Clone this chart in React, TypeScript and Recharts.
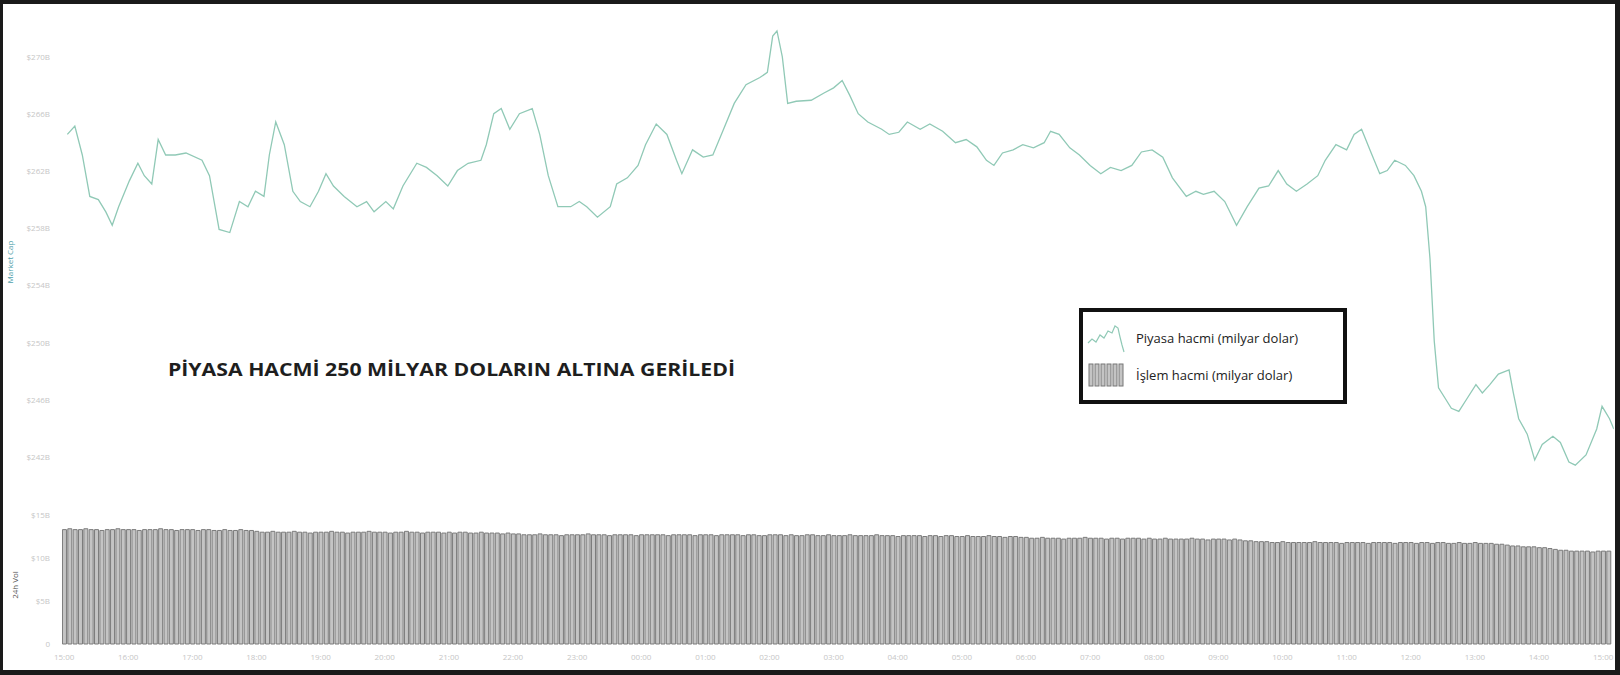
import { Bar, BarChart, Legend, Line, LineChart, XAxis, YAxis } from "recharts";

// market cap line (minutes from start, billions of dollars)
const capMinutes = [
  3, 10, 17, 24, 32, 39, 45, 51, 61, 69, 75, 82, 88, 95, 104, 114, 129, 136, 145, 155,
  164, 172, 179, 187, 192, 198, 206, 214, 221, 230, 238, 245, 252, 262, 274, 283, 290, 301, 308, 317,
  330, 339, 349, 359, 368, 378, 390, 395, 402, 409, 417, 426, 438, 445, 453, 462, 474, 482, 489, 499,
  511, 517, 527, 537, 544, 554, 564, 573, 578, 588, 598, 607, 617, 627, 638, 651, 658, 663, 667, 672,
  677, 685, 699, 711, 720, 728, 735, 743, 752, 765, 772, 781, 789, 801, 810, 822, 834, 844, 854, 863,
  870, 878, 888, 897, 907, 917, 923, 931, 941, 950, 960, 970, 979, 989, 999, 1008, 1018, 1028, 1037, 1050,
  1059, 1066, 1076, 1086, 1097, 1107, 1118, 1127, 1136, 1144, 1153, 1163, 1173, 1180, 1190, 1200, 1207, 1214, 1223, 1231,
  1238, 1245, 1255, 1263, 1270, 1274, 1278, 1282, 1286, 1292, 1298, 1305, 1313, 1321, 1327, 1334, 1342, 1352, 1356, 1361,
  1369, 1376, 1383, 1393, 1400, 1408, 1414, 1424, 1434, 1439, 1446, 1450,
];
const capValues = [
  264.58, 265.16, 263.14, 260.24, 260.02, 259.16, 258.22, 259.52, 261.33, 262.56, 261.69, 261.11, 264.22, 263.14, 263.14, 263.28, 262.77, 261.69, 257.93, 257.71,
  259.88, 259.52, 260.6, 260.24, 263.14, 265.45, 263.86, 260.6, 259.88, 259.52, 260.6, 261.83, 260.97, 260.24, 259.52, 259.88, 259.16, 259.88, 259.37, 260.97,
  262.56, 262.27, 261.69, 260.97, 262.05, 262.56, 262.77, 263.86, 266.03, 266.39, 264.94, 266.03, 266.39, 264.58, 261.69, 259.52, 259.52, 259.88, 259.52, 258.79,
  259.52, 261.11, 261.54, 262.41, 263.86, 265.31, 264.58, 262.77, 261.83, 263.5, 262.99, 263.14, 264.94, 266.75, 268.06, 268.56, 268.92, 271.46, 271.82, 270.01,
  266.75, 266.9, 266.97, 267.48, 267.84, 268.35, 267.33, 266.03, 265.45, 264.94, 264.58, 264.73, 265.45, 264.94, 265.31, 264.8, 264.0, 264.22, 263.71, 262.77,
  262.41, 263.28, 263.5, 263.86, 263.64, 264.0, 264.8, 264.58, 263.64, 263.14, 262.41, 261.83, 262.27, 262.05, 262.41, 263.35, 263.5, 262.99, 261.54, 260.24,
  260.6, 260.39, 260.6, 259.88, 258.22, 259.52, 260.82, 260.97, 262.05, 261.11, 260.6, 261.11, 261.69, 262.77, 263.86, 263.5, 264.58, 264.94, 263.28, 261.83,
  262.05, 262.77, 262.41, 261.69, 260.6, 259.52, 255.9, 250.11, 246.85, 246.13, 245.41, 245.19, 246.13, 247.07, 246.49, 247.07, 247.8, 248.09, 246.49, 244.68,
  243.6, 241.79, 242.88, 243.45, 243.02, 241.65, 241.43, 242.15, 243.96, 245.55, 244.68, 243.96,
];

// 24h trade volume, one bar every 5 minutes (billions of dollars)
const volValues = [
  13.3, 13.4, 13.3, 13.3, 13.4, 13.3, 13.3, 13.2, 13.3, 13.3, 13.4, 13.3, 13.3, 13.3, 13.2, 13.3, 13.3, 13.3, 13.4, 13.3, 13.3, 13.2, 13.3, 13.3, 13.3, 13.2, 13.3, 13.3, 13.2,
  13.2, 13.3, 13.2, 13.2, 13.3, 13.2, 13.2, 13.1, 13.0, 13.0, 13.1, 13.0, 13.0, 13.0, 13.1, 13.0, 13.0, 12.9, 13.0, 13.0, 13.0, 13.1, 13.0, 13.0, 12.9, 13.0, 13.0, 13.0, 13.1,
  13.0, 13.0, 13.0, 12.9, 13.0, 13.0, 13.1, 13.0, 13.0, 12.9, 13.0, 13.0, 13.0, 12.9, 13.0, 12.9, 13.0, 13.0, 12.9, 12.9, 13.0, 12.9, 12.9, 12.9, 12.8, 12.9, 12.8, 12.8, 12.7,
  12.7, 12.7, 12.8, 12.7, 12.7, 12.7, 12.6, 12.7, 12.7, 12.7, 12.7, 12.8, 12.7, 12.7, 12.7, 12.6, 12.7, 12.7, 12.7, 12.7, 12.6, 12.7, 12.7, 12.7, 12.7, 12.7, 12.6, 12.7, 12.7,
  12.7, 12.7, 12.6, 12.7, 12.7, 12.7, 12.6, 12.7, 12.7, 12.7, 12.7, 12.6, 12.7, 12.7, 12.6, 12.6, 12.7, 12.7, 12.7, 12.6, 12.7, 12.6, 12.6, 12.7, 12.7, 12.6, 12.6, 12.7, 12.6,
  12.6, 12.6, 12.7, 12.6, 12.6, 12.6, 12.6, 12.7, 12.6, 12.6, 12.6, 12.5, 12.6, 12.6, 12.6, 12.6, 12.5, 12.6, 12.6, 12.5, 12.6, 12.6, 12.5, 12.5, 12.6, 12.5, 12.5, 12.5, 12.6,
  12.5, 12.5, 12.4, 12.5, 12.5, 12.4, 12.4, 12.3, 12.3, 12.4, 12.3, 12.3, 12.3, 12.2, 12.3, 12.3, 12.3, 12.4, 12.3, 12.3, 12.3, 12.2, 12.3, 12.3, 12.2, 12.3, 12.3, 12.3, 12.2,
  12.3, 12.2, 12.2, 12.3, 12.2, 12.2, 12.2, 12.2, 12.3, 12.2, 12.2, 12.1, 12.2, 12.2, 12.2, 12.1, 12.2, 12.1, 12.0, 12.0, 11.9, 11.9, 11.9, 11.8, 11.8, 11.9, 11.8, 11.8, 11.8,
  11.8, 11.8, 11.9, 11.8, 11.8, 11.8, 11.8, 11.7, 11.8, 11.8, 11.8, 11.8, 11.7, 11.8, 11.8, 11.8, 11.8, 11.7, 11.8, 11.8, 11.8, 11.7, 11.8, 11.8, 11.7, 11.8, 11.8, 11.7, 11.7,
  11.8, 11.7, 11.7, 11.8, 11.7, 11.7, 11.7, 11.6, 11.6, 11.5, 11.4, 11.4, 11.3, 11.3, 11.3, 11.2, 11.2, 11.1, 11.0, 10.9, 10.9, 10.8, 10.8, 10.8, 10.8, 10.7, 10.8, 10.8, 10.8,
];

const hourTicks = [0, 60, 120, 180, 240, 300, 360, 420, 480, 540, 600, 660, 720, 780, 840, 900, 960, 1020, 1080, 1140, 1200, 1260, 1320, 1380, 1440];
const hourLabels = [
  "15:00", "16:00", "17:00", "18:00", "19:00", "20:00", "21:00", "22:00", "23:00", "00:00", "01:00", "02:00", "03:00",
  "04:00", "05:00", "06:00", "07:00", "08:00", "09:00", "10:00", "11:00", "12:00", "13:00", "14:00", "15:00",
];
const capTicks = [242, 246, 250, 254, 258, 262, 266, 270];
const volTicks = [0, 5, 10, 15];

const title = "PİYASA HACMİ 250 MİLYAR DOLARIN ALTINA GERİLEDİ";
const legendLabels = ["Piyasa hacmi (milyar dolar)", "İşlem hacmi (milyar dolar)"];

const capData = capMinutes.map((t, i) => ({ t, cap: capValues[i] }));
const volData = volValues.map((vol, i) => ({ t: i * 5, vol }));

const LINE_COLOR = "#90c9b6";
const X_DOMAIN = [-2, 1450];
const tickStyle = { fill: "#c6c6c6", fontSize: 8, fontFamily: "Open Sans" };

function LegendBox() {
  return (
    <div
      style={{
        width: 268,
        height: 96,
        boxSizing: "border-box",
        border: "4px solid #111",
        background: "#fff",
        fontFamily: "Open Sans",
        fontSize: 13,
        color: "#222",
        paddingLeft: 4,
      }}
    >
      <div style={{ display: "flex", alignItems: "center", height: 40, marginTop: 6 }}>
        <svg width={40} height={30}>
          <polyline
            points="1,20 5,16 9,19 13,12 17,15 21,8 25,10 28,3 31,5 33,14 35,22 37,29"
            fill="none"
            stroke={LINE_COLOR}
            strokeWidth={1.2}
          />
        </svg>
        <span style={{ marginLeft: 9 }}>{legendLabels[0]}</span>
      </div>
      <div style={{ display: "flex", alignItems: "center", height: 34 }}>
        <svg width={40} height={24}>
          {[4, 10, 16, 22, 28, 34].map((x) => (
            <rect key={x} x={x - 2} y={1} width={4} height={22} fill="#c4c4c4" stroke="#777" strokeWidth={1} />
          ))}
        </svg>
        <span style={{ marginLeft: 9 }}>{legendLabels[1]}</span>
      </div>
    </div>
  );
}

export default function App() {
  return (
    <div style={{ position: "absolute", left: 0, top: 0, width: 1620, height: 675, background: "#fff", overflow: "hidden" }}>
      <div style={{ position: "absolute", left: 0, top: 0 }}>
        <LineChart width={1620} height={500} data={capData} margin={{ top: 28.4, right: 6.2, bottom: 14.4, left: 0 }}>
          <XAxis type="number" dataKey="t" domain={X_DOMAIN} allowDataOverflow hide />
          <YAxis
            domain={[240, 272]}
            ticks={capTicks}
            width={62}
            axisLine={false}
            tickLine={false}
            tickSize={0}
            tickMargin={12}
            tick={tickStyle}
            tickFormatter={(v) => `$${v}B`}
          />
          <Legend
            layout="horizontal"
            verticalAlign="middle"
            align="center"
            content={() => <LegendBox />}
            wrapperStyle={{ left: 1079, top: 308, width: 268, height: 96 }}
          />
          <Line
            type="linear"
            dataKey="cap"
            stroke={LINE_COLOR}
            strokeWidth={1.3}
            dot={false}
            isAnimationActive={false}
          />
        </LineChart>
      </div>

      <div style={{ position: "absolute", left: 0, top: 500 }}>
        <BarChart width={1620} height={175} data={volData} margin={{ top: 15, right: 6.2, bottom: 1, left: 0 }}>
          <XAxis
            type="number"
            dataKey="t"
            domain={X_DOMAIN}
            allowDataOverflow
            ticks={hourTicks}
            interval={0}
            height={30}
            axisLine={false}
            tickLine={false}
            tickMargin={4}
            tick={tickStyle}
            tickFormatter={(v) => hourLabels[hourTicks.indexOf(v)]}
          />
          <YAxis
            domain={[0, 15]}
            ticks={volTicks}
            width={62}
            axisLine={false}
            tickLine={false}
            tickSize={0}
            tickMargin={12}
            tick={tickStyle}
            tickFormatter={(v) => (v === 0 ? "0" : `$${v}B`)}
          />
          <Bar dataKey="vol" barSize={4} fill="#c4c4c4" stroke="#7b7b7b" strokeWidth={1} isAnimationActive={false} />
        </BarChart>
      </div>

      <svg width={1620} height={675} style={{ position: "absolute", left: 0, top: 0, pointerEvents: "none" }}>
        <text x={168} y={376} fontFamily="Open Sans" fontWeight={700} fontSize={18} fill="#1e1e1e" textLength={567} lengthAdjust="spacingAndGlyphs">
          {title}
        </text>
        <text x={0} y={0} transform="translate(13 262) rotate(-90)" textAnchor="middle" fontFamily="Open Sans" fontSize={8} fill="#4f9fab">
          Market Cap
        </text>
        <text x={0} y={0} transform="translate(18 585) rotate(-90)" textAnchor="middle" fontFamily="Open Sans" fontSize={8} fill="#555">
          24h Vol
        </text>
      </svg>

      <div
        style={{
          position: "absolute",
          left: 0,
          top: 0,
          width: 1620,
          height: 675,
          boxSizing: "border-box",
          borderTop: "4px solid #1a1a1a",
          borderBottom: "5px solid #1a1a1a",
          borderLeft: "3px solid #1a1a1a",
          borderRight: "5px solid #1a1a1a",
          pointerEvents: "none",
        }}
      />
    </div>
  );
}
